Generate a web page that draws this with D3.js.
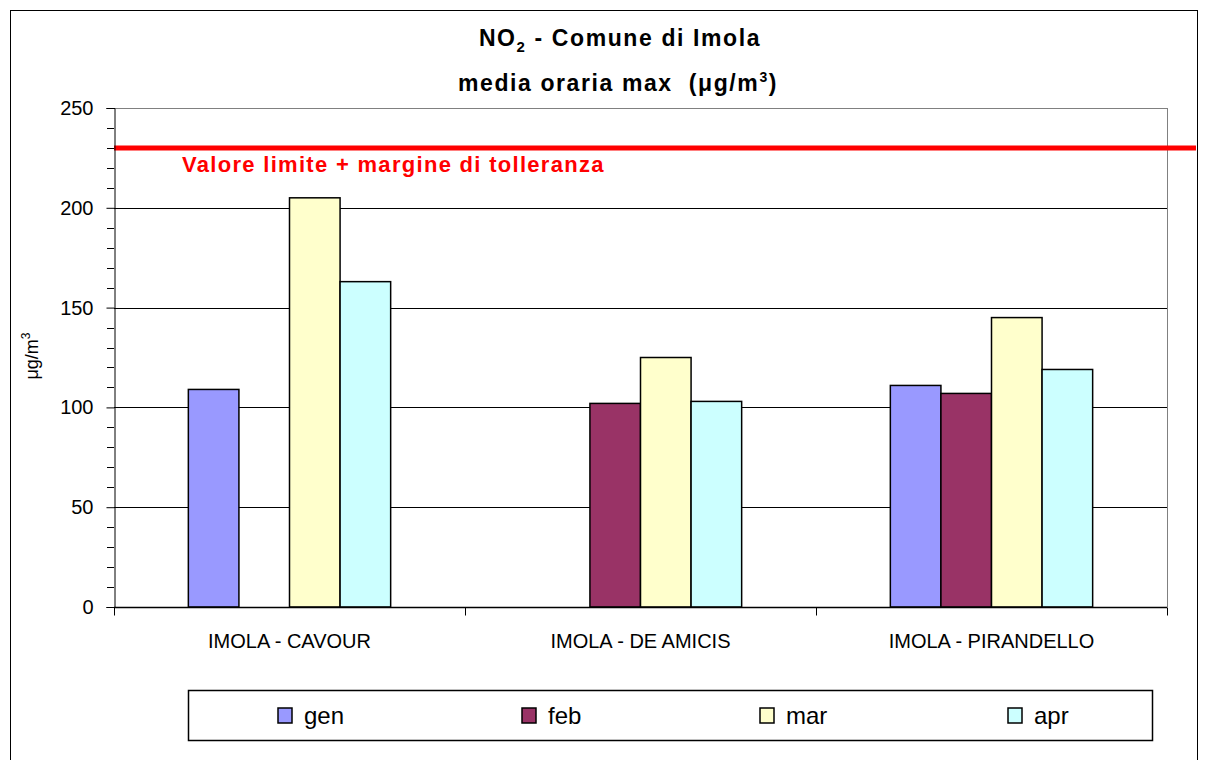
<!DOCTYPE html>
<html>
<head>
<meta charset="utf-8">
<script src="https://cdn.jsdelivr.net/npm/d3@7"></script>
<style>
  body { margin: 0; background: #fff; }
  text { font-family: "Liberation Sans", Arial, sans-serif; }
</style>
</head>
<body>
<div id="chart"></div>
<script>
// data
var stations = ["IMOLA - CAVOUR", "IMOLA - DE AMICIS", "IMOLA - PIRANDELLO"];
var months = ["gen", "feb", "mar", "apr"];
var colors = ["#9999FF", "#993366", "#FFFFCC", "#CCFFFF"];
var gen = [109, null, 111];
var feb = [null, 102, 107];
var mar = [205, 125, 145];
var apr = [163, 103, 119];
var yTicks = [0, 50, 100, 150, 200, 250];
var limite = 230;
var limiteLabel = "Valore limite + margine di tolleranza";

var series = [gen, feb, mar, apr];

var width = 1208, height = 760;
// plot area (note: "top" is taken by window.top, so use other names)
var pLeft = 114, pRight = 1167, pTop = 108, pBottom = 607;

var svg = d3.select("#chart").append("svg")
  .attr("width", width)
  .attr("height", height);

// outer chart frame
svg.append("rect")
  .attr("x", 10.5).attr("y", 10.5)
  .attr("width", 1187).attr("height", 780)
  .attr("fill", "none").attr("stroke", "#000").attr("stroke-width", 1);

var y = d3.scaleLinear().domain([0, 250]).range([pBottom, pTop]);
var x0 = d3.scaleBand().domain(stations).range([pLeft, pRight]).paddingInner(0).paddingOuter(0);
var x1 = d3.scaleBand().domain(months)
  .range([0, x0.bandwidth()])
  .paddingOuter(1.47).paddingInner(0);

// gridlines
svg.append("g").selectAll("line")
  .data(yTicks.filter(function(d) { return d > 0; }))
  .enter().append("line")
  .attr("x1", pLeft).attr("x2", pRight)
  .attr("y1", function(d) { return Math.round(y(d)) + 0.5; })
  .attr("y2", function(d) { return Math.round(y(d)) + 0.5; })
  .attr("stroke", function(d) { return d == 250 ? "#808080" : "#000"; })
  .attr("stroke-width", 1);

// plot area right border
svg.append("line")
  .attr("x1", pRight + 0.5).attr("x2", pRight + 0.5)
  .attr("y1", pTop).attr("y2", pBottom)
  .attr("stroke", "#808080");

// bars
var groups = svg.append("g").selectAll("g")
  .data(stations)
  .enter().append("g")
  .attr("transform", function(d) { return "translate(" + x0(d) + ",0)"; });

groups.selectAll("rect")
  .data(function(d, i) {
    return months.map(function(m, j) { return {m: m, v: series[j][i], c: colors[j]}; })
      .filter(function(o) { return o.v != null; });
  })
  .enter().append("rect")
  .attr("x", function(d) { return x1(d.m); })
  .attr("width", x1.bandwidth())
  .attr("y", function(d) { return y(d.v); })
  .attr("height", function(d) { return y(0) - y(d.v); })
  .attr("fill", function(d) { return d.c; })
  .attr("stroke", "#000")
  .attr("stroke-width", 1.5);

// limit line
svg.append("line")
  .attr("x1", pLeft).attr("x2", 1196)
  .attr("y1", y(limite)).attr("y2", y(limite))
  .attr("stroke", "#FF0000").attr("stroke-width", 5);

svg.append("text")
  .attr("x", 182).attr("y", y(limite) + 24)
  .attr("fill", "#FF0000")
  .attr("font-weight", "bold")
  .attr("font-size", "22px")
  .attr("letter-spacing", "1.3px")
  .text(limiteLabel);

// y axis
var yAxis = d3.axisLeft(y).tickValues(yTicks).tickSize(8).tickPadding(13);
var gy = svg.append("g").attr("transform", "translate(" + (pLeft + 0.5) + ",0)").call(yAxis);
gy.select(".domain").attr("stroke", "#000");
gy.selectAll("text").attr("font-size", "20px").attr("fill", "#000")
  .style("font-family", "Liberation Sans, Arial, sans-serif");

// minor ticks
svg.append("g").selectAll("line")
  .data(d3.range(0, 251, 10).filter(function(d) { return d % 50 != 0; }))
  .enter().append("line")
  .attr("x1", pLeft - 7).attr("x2", pLeft)
  .attr("y1", function(d) { return Math.round(y(d)) + 0.5; })
  .attr("y2", function(d) { return Math.round(y(d)) + 0.5; })
  .attr("stroke", "#000");

// x axis
var gx = svg.append("g").attr("transform", "translate(0," + (pBottom + 0.5) + ")");
gx.append("line").attr("x1", pLeft).attr("x2", pRight).attr("stroke", "#000").attr("stroke-width", 1.5);
gx.selectAll(".tk")
  .data(stations.map(function(s) { return x0(s); }).concat([pRight]))
  .enter().append("line")
  .attr("x1", function(d) { return Math.round(d) + 0.5; })
  .attr("x2", function(d) { return Math.round(d) + 0.5; })
  .attr("y1", 0).attr("y2", 8)
  .attr("stroke", "#000");
gx.selectAll(".lab")
  .data(stations)
  .enter().append("text")
  .attr("x", function(d) { return x0(d) + x0.bandwidth() / 2; })
  .attr("y", 40)
  .attr("text-anchor", "middle")
  .attr("font-size", "20px")
  .text(function(d) { return d; });

// y label
var yl = svg.append("text")
  .attr("transform", "translate(38,356) rotate(-90)")
  .attr("text-anchor", "middle")
  .attr("font-size", "18px");
yl.append("tspan").text("\u03bcg/m");
yl.append("tspan").attr("font-size", "12px").attr("dy", "-8").text("3");

// title
var t1 = svg.append("text")
  .attr("x", 620).attr("y", 46)
  .attr("text-anchor", "middle")
  .attr("font-weight", "bold").attr("font-size", "23px")
  .attr("letter-spacing", "1.6px");
t1.append("tspan").text("NO");
t1.append("tspan").attr("font-size", "15px").attr("dy", "6").text("2");
t1.append("tspan").attr("dy", "-6").text(" - Comune di Imola");

var t2 = svg.append("text")
  .attr("x", 618).attr("y", 91)
  .attr("text-anchor", "middle")
  .attr("font-weight", "bold").attr("font-size", "23px")
  .attr("letter-spacing", "1.6px");
t2.append("tspan").text("media oraria max\u00a0\u00a0(\u03bcg/m");
t2.append("tspan").attr("font-size", "14px").attr("dy", "-9").text("3");
t2.append("tspan").attr("dy", "9").text(")");

// legend
var lg = svg.append("g");
lg.append("rect")
  .attr("x", 188.5).attr("y", 690.5)
  .attr("width", 964).attr("height", 50)
  .attr("fill", "#fff").attr("stroke", "#000").attr("stroke-width", 1.5);
var legX = [278, 522, 760, 1008];
var items = lg.selectAll(".it")
  .data(months)
  .enter().append("g")
  .attr("transform", function(d, i) { return "translate(" + legX[i] + ",708)"; });
items.append("rect")
  .attr("width", 14).attr("height", 15)
  .attr("fill", function(d, i) { return colors[i]; })
  .attr("stroke", "#000").attr("stroke-width", 1.5);
items.append("text")
  .attr("x", 26).attr("y", 16)
  .attr("font-size", "24px")
  .text(function(d) { return d; });
</script>
</body>
</html>
